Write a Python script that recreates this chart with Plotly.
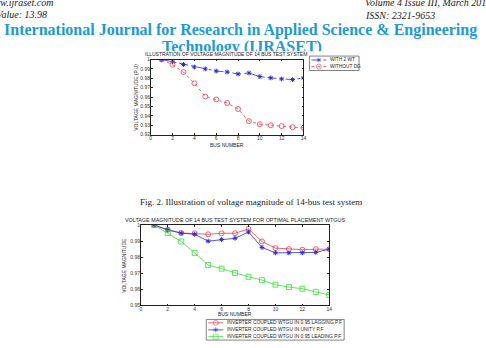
import plotly.graph_objects as go

W, H = 486, 348

# ---------------- data ----------------
bus = list(range(1, 15))
# Fig. 2 (top chart)
with_2wt = [1.0, 0.9975, 0.9947, 0.9920, 0.9900, 0.9877, 0.9867, 0.9846, 0.9856,
            0.9818, 0.9804, 0.9793, 0.9786, 0.9804]
without_dg = [1.0, 0.9944, 0.9867, 0.9747, 0.9607, 0.9575, 0.9537, 0.9474, 0.9344,
              0.9312, 0.9300, 0.9291, 0.9280, 0.9274]
# bottom chart
lagging = [1.0, 0.9971, 0.9951, 0.9949, 0.9943, 0.9949, 0.9949, 0.9976, 0.9898,
           0.9857, 0.9851, 0.9847, 0.9850, 0.9850]
unity = [1.0, 0.9970, 0.9950, 0.9943, 0.9900, 0.9910, 0.9918, 0.9957, 0.9861,
         0.9827, 0.9827, 0.9827, 0.9830, 0.9850]
leading = [1.0, 0.9951, 0.9898, 0.9827, 0.9751, 0.9729, 0.9702, 0.9678, 0.9657,
           0.9629, 0.9614, 0.9604, 0.9584, 0.9565]

x_tickvals = [0, 2, 4, 6, 8, 10, 12, 14]
x_ticktext = ["0", "2", "4", "6", "8", "10", "12", "14"]
y1_tickvals = [0.92, 0.93, 0.94, 0.95, 0.96, 0.97, 0.98, 0.99, 1.0]
y1_ticktext = ["0.92", "0.93", "0.94", "0.95", "0.96", "0.97", "0.98", "0.99", "1"]
y2_tickvals = [0.95, 0.96, 0.97, 0.98, 0.99, 1.0]
y2_ticktext = ["0.95", "0.96", "0.97", "0.98", "0.99", "1"]

names1 = ["WITH 2 WT", "WITHOUT DG"]
names2 = ["INVERTER COUPLED WTGU IN 0.95 LAGGING P.F",
          "INVERTER COUPLED WTGU IN UNITY P.F",
          "INVERTER COUPLED WTGU IN 0.95 LEADING P.F"]

# ---------------- styles ----------------
BLUE = "#2b2bd6"
RED = "#ee3a4e"
GREEN = "#3ddc3d"
HEAD = "#1d9ad8"
SANS = "Liberation Sans, Arial, sans-serif"
SERIF = "Liberation Serif, Times New Roman, serif"


def px(x):
    return x / W


def py(y):
    return 1 - y / H


fig = go.Figure()

# chart 1
fig.add_trace(go.Scatter(x=bus, y=with_2wt, mode="lines+markers", xaxis="x", yaxis="y",
                         line=dict(color=BLUE, width=0.8, dash="dashdot"),
                         marker=dict(symbol="asterisk-open", size=4, color=BLUE, line=dict(color=BLUE, width=1)),
                         hoverinfo="skip"))
fig.add_trace(go.Scatter(x=bus, y=without_dg, mode="lines+markers", xaxis="x", yaxis="y",
                         line=dict(color=RED, width=0.8, dash="dot"),
                         marker=dict(symbol="circle-open", size=5, color=RED, line=dict(color=RED, width=0.8)),
                         hoverinfo="skip"))
# chart 2
fig.add_trace(go.Scatter(x=bus, y=lagging, mode="lines+markers", xaxis="x2", yaxis="y2",
                         line=dict(color=RED, width=0.8),
                         marker=dict(symbol="circle-open", size=5, color=RED, line=dict(color=RED, width=0.8)),
                         hoverinfo="skip"))
fig.add_trace(go.Scatter(x=bus, y=unity, mode="lines+markers", xaxis="x2", yaxis="y2",
                         line=dict(color=BLUE, width=0.8),
                         marker=dict(symbol="asterisk-open", size=4, color=BLUE, line=dict(color=BLUE, width=1)),
                         hoverinfo="skip"))
fig.add_trace(go.Scatter(x=bus, y=leading, mode="lines+markers", xaxis="x2", yaxis="y2",
                         line=dict(color=GREEN, width=0.8),
                         marker=dict(symbol="square-open", size=5, color=GREEN, line=dict(color=GREEN, width=0.8)),
                         hoverinfo="skip"))

# legend keys (helper axes in pixel units)
leg1_styles = [(BLUE, "dashdot", "asterisk-open", 4), (RED, "dot", "circle-open", 5)]
leg1_rows = [58.0, 64.7]
for (c, d, s, sz), yy in zip(leg1_styles, leg1_rows):
    fig.add_trace(go.Scatter(x=[313, 320.5, 328], y=[yy, yy, yy], mode="lines+markers",
                             xaxis="x3", yaxis="y3", line=dict(color=c, width=0.8, dash=d),
                             marker=dict(symbol=s, size=[0, sz, 0], color=c, line=dict(color=c, width=0.8)),
                             hoverinfo="skip", cliponaxis=False))
leg2_styles = [(RED, "solid", "circle-open", 5), (BLUE, "solid", "asterisk-open", 4),
               (GREEN, "solid", "square-open", 5)]
leg2_rows = [325.5, 332.6, 339.5]
for (c, d, s, sz), yy in zip(leg2_styles, leg2_rows):
    fig.add_trace(go.Scatter(x=[209, 216.5, 224], y=[yy, yy, yy], mode="lines+markers",
                             xaxis="x4", yaxis="y4", line=dict(color=c, width=0.8, dash=d),
                             marker=dict(symbol=s, size=[0, sz, 0], color=c, line=dict(color=c, width=0.8)),
                             hoverinfo="skip", cliponaxis=False))

# header second line, partly hidden behind the first chart image
fig.add_trace(go.Scatter(x=[243], y=[45.5], mode="text", text=["Technology (IJRASET)"],
                         textposition="middle center", xaxis="x5", yaxis="y5",
                         textfont=dict(family=SERIF, size=16, color=HEAD, weight="bold"),
                         hoverinfo="skip", cliponaxis=True))

axis_common = dict(showgrid=False, zeroline=False, showline=True, mirror="ticks",
                   linecolor="#222", linewidth=0.6, ticks="inside", ticklen=2,
                   tickwidth=0.5, tickcolor="#222", ticklabelstandoff=-1,
                   tickfont=dict(family=SANS, size=5, color="#333"))

helper = dict(visible=False, showgrid=False, zeroline=False, fixedrange=True)

fig.update_layout(
    width=W, height=H, margin=dict(l=0, r=0, t=0, b=0, pad=0),
    paper_bgcolor="white", plot_bgcolor="white", showlegend=False,
    xaxis=dict(domain=[px(151), px(305)], range=[0, 14], tickvals=x_tickvals, ticktext=x_ticktext,
               anchor="y", **axis_common),
    yaxis=dict(domain=[py(134), py(57.5)], range=[0.92, 1.0], tickvals=y1_tickvals, ticktext=y1_ticktext,
               anchor="x", **axis_common),
    xaxis2=dict(domain=[px(141), px(331)], range=[0, 14], tickvals=x_tickvals, ticktext=x_ticktext,
                anchor="y2", **axis_common),
    yaxis2=dict(domain=[py(307.7), py(226)], range=[0.95, 1.0], tickvals=y2_tickvals, ticktext=y2_ticktext,
                anchor="x2", **axis_common),
    xaxis3=dict(domain=[px(311), px(361)], range=[311, 361], anchor="y3", **helper),
    yaxis3=dict(domain=[py(68.7), py(54)], range=[68.7, 54], anchor="x3", **helper),
    xaxis4=dict(domain=[px(207), px(346)], range=[207, 346], anchor="y4", **helper),
    yaxis4=dict(domain=[py(343), py(322)], range=[343, 322], anchor="x4", **helper),
    xaxis5=dict(domain=[0, 1], range=[0, W], anchor="y5", **helper),
    yaxis5=dict(domain=[py(49), 1], range=[49, 0], anchor="x5", **helper),
)

shapes = [
    dict(type="rect", xref="paper", yref="paper", x0=px(311), x1=px(361), y0=py(68.7), y1=py(54),
         line=dict(color="#333", width=0.6)),
    dict(type="rect", xref="paper", yref="paper", x0=px(207), x1=px(346), y0=py(343), y1=py(322),
         line=dict(color="#333", width=0.6)),
]
fig.update_layout(shapes=shapes)

ann = []


def text(x, y, s, size, family=SANS, color="#222", xanchor="center", angle=0, italic=False, bold=False):
    ann.append(dict(x=px(x), y=py(y), xref="paper", yref="paper", text=s, showarrow=False,
                    xanchor=xanchor, yanchor="middle", textangle=angle,
                    font=dict(family=family, size=size, color=color,
                              style="italic" if italic else "normal",
                              weight="bold" if bold else "normal")))


# page header
text(54, -1, "www.ijraset.com", 10, SERIF, "#222", "right", italic=True)
text(48, 12, "IC Value: 13.98", 10, SERIF, "#222", "right", italic=True)
text(365, -1, "Volume 4 Issue III, March 2016", 10, SERIF, "#222", "left", italic=True)
text(365, 13, "ISSN: 2321-9653", 10, SERIF, "#222", "left", italic=True)
text(241, 27.5, "International Journal for Research in Applied Science &amp; Engineering", 16,
     SERIF, HEAD, bold=True)

# chart 1 texts
text(227, 52, "ILLUSTRATION OF VOLTAGE MAGNITUDE OF 14 BUS TEST SYSTEM", 5)
text(228, 144, "BUS NUMBER", 5)
text(136.5, 96, "VOLTAGE MAGNITUDE (P.U)", 5, angle=-90)
for nm, yy in zip(names1, leg1_rows):
    text(329.5, yy, nm, 4.8, xanchor="left")

# caption
text(252, 202, "Fig. 2. Illustration of voltage magnitude of 14-bus test system", 9, SERIF, "#222")

# chart 2 texts
text(236, 220.7, "VOLTAGE MAGNITUDE OF 14 BUS TEST SYSTEM FOR OPTIMAL PLACEMENT WTGUS", 5.4)
text(236, 316.5, "BUS NUMBER", 5)
text(124.5, 267, "VOLTAGE MAGNITUDE", 5, angle=-90)
for nm, yy in zip(names2, leg2_rows):
    text(226, yy, nm, 4.9, xanchor="left")

fig.update_layout(annotations=ann)

fig.write_html("out.html")
